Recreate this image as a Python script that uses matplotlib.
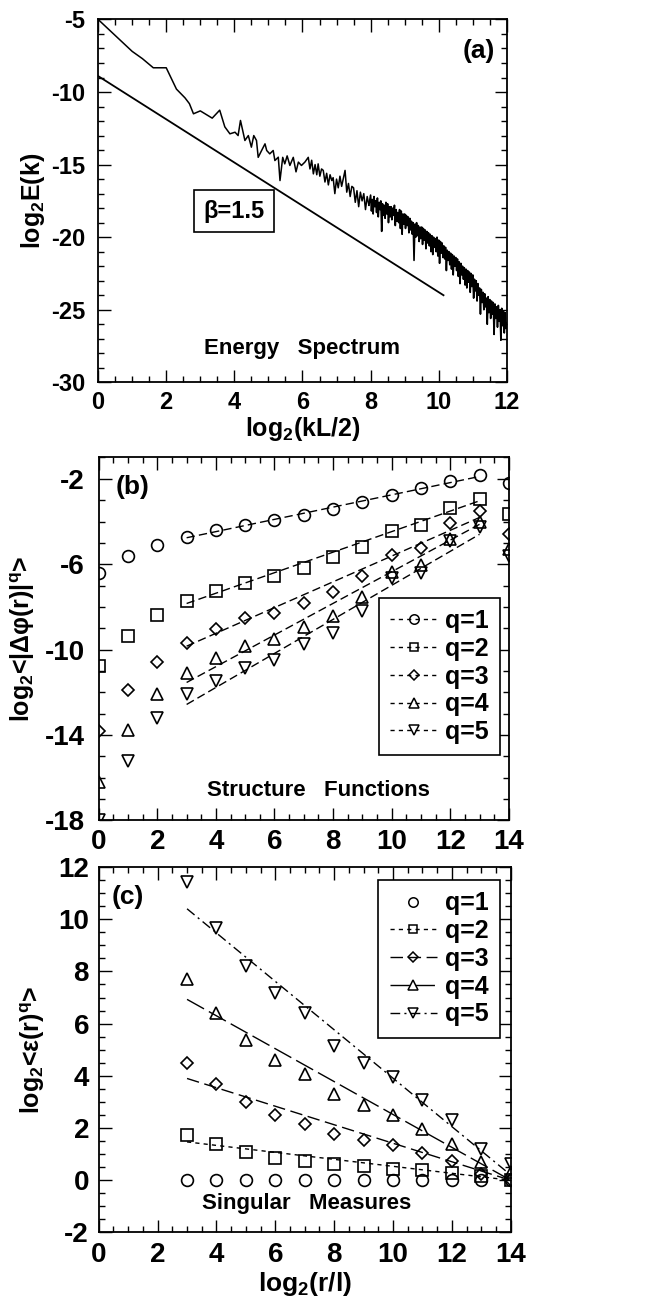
import numpy as np
import matplotlib
matplotlib.use("Agg")
import matplotlib.pyplot as plt
from matplotlib.lines import Line2D
from matplotlib.ticker import MultipleLocator

plt.rcParams['font.family'] = ['Liberation Sans', 'DejaVu Sans']
plt.rcParams['font.weight'] = 'bold'
plt.rcParams['axes.labelweight'] = 'bold'
plt.rcParams['axes.unicode_minus'] = False
plt.rcParams['mathtext.fontset'] = 'custom'
plt.rcParams['mathtext.rm'] = 'Liberation Sans:bold'
plt.rcParams['mathtext.it'] = 'Liberation Sans:bold'
plt.rcParams['mathtext.bf'] = 'Liberation Sans:bold'
TICKFONT = ['Liberation Sans Narrow', 'Liberation Sans']

# ---- (a) energy spectrum ----
# low wavenumbers, irregular sampling
spec_x_lo = [0.0, 0.5, 1.0, 1.3, 1.62, 2.0, 2.3, 2.55, 2.68, 2.8, 3.0, 3.35, 3.57, 3.72, 3.87,
             4.02, 4.11, 4.18, 4.31, 4.41, 4.50, 4.57, 4.65, 4.70, 4.80, 4.90, 4.95, 5.04, 5.14,
             5.19, 5.29, 5.34, 5.42, 5.48, 5.55, 5.63, 5.73, 5.81, 5.88, 5.97, 6.07, 6.17, 6.22,
             6.27, 6.32, 6.37, 6.42, 6.46, 6.51, 6.56, 6.61, 6.66, 6.71, 6.76, 6.81, 6.86, 6.90,
             6.95, 7.00, 7.05, 7.10, 7.15, 7.25, 7.30, 7.35, 7.40, 7.45,
             7.50, 7.55, 7.60, 7.65, 7.70, 7.75, 7.80, 7.85, 7.90, 7.95]
spec_y_lo = [-5.0, -6.1, -7.2, -7.7, -8.33, -8.33, -9.8, -10.4, -10.8, -11.5, -11.3, -11.8, -11.25, -12.4, -12.88,
             -12.77, -13.0, -11.96, -13.34, -13.0, -13.8, -13.0, -13.34, -14.5, -14.03, -13.57, -14.03, -14.26, -14.03,
             -14.72, -14.49, -16.1, -14.5, -14.95, -14.4, -15.06, -14.5, -15.5, -14.83, -15.06, -14.83, -14.5, -15.3,
             -14.7, -15.64, -15.0, -15.7, -14.95, -15.8, -15.3, -15.4, -16.2, -15.6, -16.4, -15.7, -16.1, -15.9,
             -17.0, -16.0, -16.6, -15.8, -16.5, -15.4, -16.9, -16.3, -17.2, -16.5,
             -16.6, -17.6, -16.8, -17.9, -16.9, -17.5, -17.0, -18.1, -17.2, -17.8]
# high wavenumbers, every 0.025 from 8 to 12
spec_x_hi = np.round(np.arange(8.0, 12.0001, 0.025), 3)
spec_y_hi = [-17.1, -18.2, -17.4, -18.4, -17.2, -17.9, -17.5, -18.3,
             -17.3, -18.6, -17.6, -18.1, -17.5, -19.6, -17.7, -18.5,
             -17.8, -18.7, -17.6, -18.4, -17.7, -19.0, -17.9, -18.6,
             -17.9, -18.8, -18.0, -18.5, -17.8, -19.2, -18.1, -18.9,
             -18.3, -19.0, -18.1, -19.4, -18.2, -19.8, -18.4, -19.1,
             -18.4, -19.4, -18.5, -19.2, -18.6, -19.7, -18.7, -19.5,
             -18.9, -19.8, -19.0, -21.6, -19.1, -20.0, -19.0, -19.9,
             -19.2, -20.3, -19.3, -20.1, -19.3, -20.5, -19.4, -20.2,
             -19.5, -20.8, -19.6, -20.4, -19.7, -20.6, -19.8, -21.0,
             -19.9, -21.2, -20.0, -20.7, -20.1, -21.0, -20.0, -21.3,
             -20.2, -21.8, -20.3, -21.1, -20.4, -21.4, -20.6, -21.5,
             -20.7, -22.3, -20.9, -21.6, -21.0, -21.9, -21.1, -22.2,
             -21.2, -22.6, -21.3, -22.0, -21.4, -22.3, -21.5, -22.7,
             -21.7, -23.2, -21.8, -22.6, -22.0, -22.9, -22.1, -23.3,
             -22.2, -23.5, -22.3, -23.1, -22.4, -23.8, -22.5, -23.4,
             -22.6, -24.2, -22.9, -23.7, -23.0, -24.4, -23.2, -24.0,
             -23.5, -25.3, -23.6, -24.5, -23.8, -25.0, -23.9, -24.8,
             -24.2, -26.0, -24.1, -25.2, -24.3, -25.6, -24.4, -25.3,
             -24.5, -26.7, -24.6, -25.6, -24.8, -26.2, -24.7, -25.8,
             -25.0, -27.1, -24.9, -26.1, -25.1, -26.6, -25.2, -26.3,
             -25.9]
ref_x = [0.0, 10.14]
ref_y = [-8.9, -24.0]

# ---- (b) structure functions ----
b_r = [0, 1, 2, 3, 4, 5, 6, 7, 8, 9, 10, 11, 12, 13, 14]
b_q1 = [-6.42, -5.63, -5.11, -4.73, -4.40, -4.16, -3.94, -3.70, -3.42, -3.10, -2.74, -2.44, -2.11, -1.84, -2.2]
b_q2 = [-10.75, -9.38, -8.39, -7.73, -7.25, -6.86, -6.57, -6.18, -5.68, -5.19, -4.44, -4.16, -3.37, -2.95, -3.66]
b_q3 = [-13.83, -11.89, -10.56, -9.68, -9.05, -8.51, -8.28, -7.80, -7.28, -6.57, -5.55, -5.23, -4.05, -3.53, -4.60]
b_q4 = [-16.2, -13.78, -12.09, -11.10, -10.41, -9.85, -9.52, -8.94, -8.42, -7.55, -6.38, -6.02, -4.81, -4.0, -5.31]
b_q5 = [-18.0, -15.2, -13.2, -12.09, -11.46, -10.88, -10.47, -9.73, -9.21, -8.20, -6.65, -6.42, -4.92, -4.26, -5.63]
b_fit_x = [3, 13]
b_fit = [[-4.76, -1.89], [-7.84, -3.03], [-9.84, -3.81], [-11.54, -4.13], [-12.57, -4.6]]

# ---- (c) singular measures ----
c_r = [3, 4, 5, 6, 7, 8, 9, 10, 11, 12, 13, 14]
c_q1 = [0, 0, 0, 0, 0, 0, 0, 0, 0, 0, 0, 0]
c_q2 = [1.73, 1.38, 1.08, 0.86, 0.74, 0.63, 0.53, 0.44, 0.38, 0.27, 0.18, 0.0]
c_q3 = [4.51, 3.68, 2.98, 2.50, 2.17, 1.79, 1.53, 1.34, 1.04, 0.74, 0.25, 0.0]
c_q4 = [7.72, 6.41, 5.39, 4.62, 4.06, 3.30, 2.88, 2.50, 1.98, 1.40, 0.70, 0.3]
c_q5 = [11.42, 9.65, 8.21, 7.18, 6.41, 5.13, 4.51, 3.95, 3.07, 2.30, 1.21, 0.63]
c_fit_x = [3, 14]
c_fit = [None, [1.47, 0.0], [3.9, 0.0], [6.93, 0.0], [10.4, 0.2]]

q_labels = ['q=1', 'q=2', 'q=3', 'q=4', 'q=5']
markers = ['o', 's', 'D', '^', 'v']
msizes = [8.5, 8, 6.5, 9, 9]


def style(ax, fs, xpad, ypad):
    ax.tick_params(which='both', direction='in', top=True, right=True, width=1.0)
    ax.tick_params(which='major', length=9, labelsize=fs, labelfontfamily=TICKFONT)
    ax.tick_params(which='minor', length=4.5)
    ax.tick_params(axis='x', pad=xpad)
    ax.tick_params(axis='y', pad=ypad)
    for s in ax.spines.values():
        s.set_linewidth(1.3)


fig = plt.figure(figsize=(6.54, 12.96), dpi=100)

# (a)
ax = fig.add_axes([0.150, 0.705, 0.625, 0.280])
ax.plot(spec_x_lo, spec_y_lo, 'k-', lw=1.1)
ax.plot(np.r_[spec_x_lo[-1], spec_x_hi], np.r_[spec_y_lo[-1], spec_y_hi], 'k-', lw=1.2)
ax.plot(ref_x, ref_y, 'k-', lw=1.3)
ax.set_xlim(0, 12)
ax.set_ylim(-30, -5)
ax.xaxis.set_major_locator(MultipleLocator(2))
ax.xaxis.set_minor_locator(MultipleLocator(0.5))
ax.yaxis.set_major_locator(MultipleLocator(5))
ax.yaxis.set_minor_locator(MultipleLocator(1))
style(ax, 17, 6, 9)
ax.set_xlabel('log$_2$(kL/2)', fontsize=18, labelpad=1)
ax.set_ylabel('log$_2$E(k)', fontsize=18)
ax.yaxis.set_label_coords(-0.125, 0.5)
ax.text(11.65, -7.15, '(a)', fontsize=19, ha='right', va='center')
ax.text(6.0, -27.7, 'Energy   Spectrum', fontsize=16, ha='center', va='center')
ax.text(4.0, -18.2, 'β=1.5', fontsize=17, ha='center', va='center',
        bbox=dict(boxstyle='square,pad=0.4', fc='white', ec='k', lw=1.2))

# (b)
ax = fig.add_axes([0.151, 0.367, 0.627, 0.280])
handles = []
for i, ys in enumerate([b_q1, b_q2, b_q3, b_q4, b_q5]):
    ax.plot(b_fit_x, b_fit[i], color='k', lw=1.0, dashes=(6, 3))
    ax.plot(b_r, ys, ls='none', marker=markers[i], ms=msizes[i], mfc='none', mec='k', mew=1.2)
    handles.append(Line2D([], [], color='k', lw=1.0, dashes=(3, 3), marker=markers[i],
                          ms=msizes[i] * 0.8, mfc='none', mec='k', mew=1.1))
ax.set_xlim(0, 14)
ax.set_ylim(-18, -1)
ax.xaxis.set_major_locator(MultipleLocator(2))
ax.xaxis.set_minor_locator(MultipleLocator(0.5))
ax.set_yticks([-18, -14, -10, -6, -2])
ax.yaxis.set_minor_locator(MultipleLocator(1))
style(ax, 20, 6, 10)
ax.set_ylabel('log$_2$<|Δφ(r)|$^q$>', fontsize=18)
ax.yaxis.set_label_coords(-0.151, 0.5)
ax.text(1.14, -2.4, '(b)', fontsize=19, ha='center', va='center')
ax.text(7.5, -16.6, 'Structure   Functions', fontsize=16, ha='center', va='center')
leg = ax.legend(handles, q_labels, loc='lower right', bbox_to_anchor=(0.978, 0.179),
                fontsize=18, handlelength=1.9, labelspacing=0.15, borderpad=0.45,
                handletextpad=0.3, borderaxespad=0, fancybox=False, framealpha=1,
                edgecolor='k')
leg.get_frame().set_linewidth(1.2)

# (c)
ax = fig.add_axes([0.151, 0.049, 0.630, 0.282])
c_dashes = [None, (3, 3), (9, 4), (14, 4), (7, 3, 1.5, 3)]
handles = []
for i, ys in enumerate([c_q1, c_q2, c_q3, c_q4, c_q5]):
    if c_fit[i] is not None:
        ax.plot(c_fit_x, c_fit[i], color='k', lw=1.0, dashes=c_dashes[i])
        h = Line2D([], [], color='k', lw=1.0, dashes=c_dashes[i], marker=markers[i],
                   ms=msizes[i] * 0.8, mfc='none', mec='k', mew=1.1)
    else:
        h = Line2D([], [], ls='none', marker=markers[i], ms=msizes[i] * 0.8,
                   mfc='none', mec='k', mew=1.1)
    ax.plot(c_r, ys, ls='none', marker=markers[i], ms=msizes[i], mfc='none', mec='k', mew=1.2)
    handles.append(h)
ax.set_xlim(0, 14)
ax.set_ylim(-2, 12)
ax.xaxis.set_major_locator(MultipleLocator(2))
ax.xaxis.set_minor_locator(MultipleLocator(0.5))
ax.yaxis.set_major_locator(MultipleLocator(2))
ax.yaxis.set_minor_locator(MultipleLocator(0.5))
style(ax, 20, 7, 7)
ax.set_xlabel('log$_2$(r/l)', fontsize=19, labelpad=1)
ax.set_ylabel('log$_2$<ε(r)$^q$>', fontsize=18)
ax.yaxis.set_label_coords(-0.126, 0.5)
ax.text(1.0, 10.85, '(c)', fontsize=19, ha='center', va='center')
ax.text(7.07, -0.9, 'Singular   Measures', fontsize=16, ha='center', va='center')
leg = ax.legend(handles, q_labels, loc='upper right', bbox_to_anchor=(0.973, 0.964),
                fontsize=18, handlelength=1.9, labelspacing=0.15, borderpad=0.45,
                handletextpad=0.3, borderaxespad=0, fancybox=False, framealpha=1,
                edgecolor='k')
leg.get_frame().set_linewidth(1.2)

fig.savefig('out.png', dpi=100)
